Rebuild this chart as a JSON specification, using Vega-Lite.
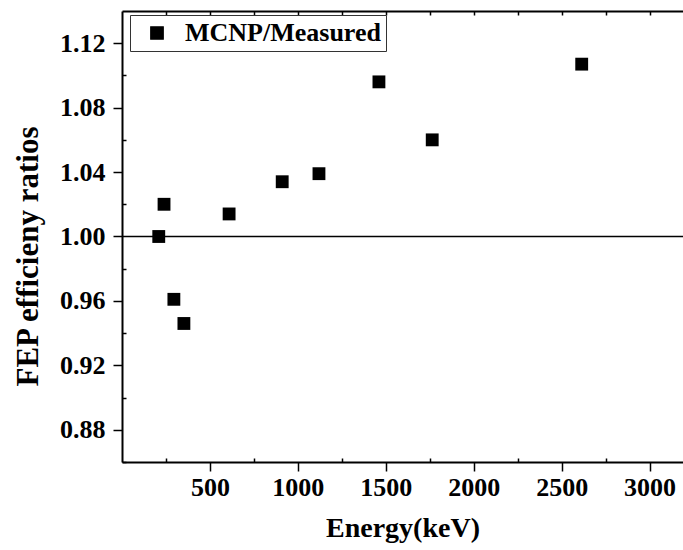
{
  "$schema": "https://vega.github.io/schema/vega-lite/v6.json",
  "width": 561,
  "height": 451,
  "autosize": {"type": "none"},
  "padding": {"left": 122, "top": 11, "right": 0, "bottom": 88},
  "background": "white",
  "config": {"view": {"stroke": null}, "font": "Liberation Serif"},
  "datasets": {
    "pts": [
      {"energy": 209, "ratio": 1.000, "series": "MCNP/Measured"},
      {"energy": 239, "ratio": 1.020, "series": "MCNP/Measured"},
      {"energy": 295, "ratio": 0.961, "series": "MCNP/Measured"},
      {"energy": 352, "ratio": 0.946, "series": "MCNP/Measured"},
      {"energy": 609, "ratio": 1.014, "series": "MCNP/Measured"},
      {"energy": 911, "ratio": 1.034, "series": "MCNP/Measured"},
      {"energy": 1120, "ratio": 1.039, "series": "MCNP/Measured"},
      {"energy": 1461, "ratio": 1.096, "series": "MCNP/Measured"},
      {"energy": 1764, "ratio": 1.060, "series": "MCNP/Measured"},
      {"energy": 2614, "ratio": 1.107, "series": "MCNP/Measured"}
    ],
    "ref": [{"level": 1.0}]
  },
  "layer": [
    {
      "data": {"name": "ref"},
      "mark": {"type": "rule", "color": "black", "strokeWidth": 1.5},
      "encoding": {
        "y": {"field": "level", "type": "quantitative", "axis": null, "scale": {"domain": [0.86, 1.14], "nice": false, "zero": false}}
      }
    },
    {
      "data": {"name": "pts"},
      "mark": {"type": "point", "shape": "square", "filled": true, "size": 165, "opacity": 1},
      "encoding": {
        "x": {
          "field": "energy", "type": "quantitative",
          "scale": {"domain": [0, 3190], "nice": false, "zero": false},
          "axis": {
            "orient": "bottom", "values": [500, 1000, 1500, 2000, 2500, 3000], "format": "d", "grid": false,
            "title": "Energy(keV)",
            "domainColor": "black", "domainWidth": 2, "tickColor": "black", "tickWidth": 1.5, "tickSize": 9,
            "labelFont": "Liberation Serif", "labelFontSize": 26, "labelFontWeight": "bold", "labelColor": "black",
            "labelBaseline": "alphabetic", "labelPadding": 24, "labelFlush": false,
            "titleFont": "Liberation Serif", "titleFontSize": 28, "titleFontWeight": "bold", "titleColor": "black",
            "titleBaseline": "alphabetic", "titleY": 74
          }
        },
        "y": {
          "field": "ratio", "type": "quantitative",
          "scale": {"domain": [0.86, 1.14], "nice": false, "zero": false},
          "axis": {
            "orient": "left", "values": [0.88, 0.92, 0.96, 1.0, 1.04, 1.08, 1.12], "format": ".2f", "grid": false,
            "title": "FEP efficieny ratios",
            "domainColor": "black", "domainWidth": 2, "tickColor": "black", "tickWidth": 1.5, "tickSize": 9,
            "labelFont": "Liberation Serif", "labelFontSize": 26, "labelFontWeight": "bold", "labelColor": "black",
            "labelPadding": 8, "labelFlush": false,
            "titleFont": "Liberation Serif", "titleFontSize": 31, "titleFontWeight": "bold", "titleColor": "black",
            "titleAngle": 270, "titleBaseline": "alphabetic", "titleAlign": "center", "titleX": -85, "titleY": 245
          }
        },
        "color": {
          "field": "series", "type": "nominal",
          "scale": {"range": ["black"]},
          "legend": {
            "title": null, "orient": "none", "legendX": 8, "legendY": 4,
            "strokeColor": "#333333", "fillColor": "white", "padding": 5,
            "symbolOffset": 9, "labelOffset": 15, "symbolType": "square", "symbolSize": 150, "symbolOpacity": 1,
            "symbolFillColor": "black", "symbolStrokeColor": "black", "labelLimit": 500,
            "labelFont": "Liberation Serif", "labelFontSize": 26, "labelFontWeight": "bold", "labelColor": "black"
          }
        }
      }
    },
    {
      "data": {"name": "pts"},
      "mark": {"type": "point", "opacity": 0},
      "encoding": {
        "x": {
          "field": "energy", "type": "quantitative",
          "axis": {"orient": "bottom", "values": [250, 750, 1250, 1750, 2250, 2750], "labels": false, "domain": false, "grid": false, "title": null, "tickColor": "black", "tickWidth": 1.5, "tickSize": -4}
        },
        "y": {
          "field": "ratio", "type": "quantitative",
          "axis": {"orient": "left", "values": [0.86, 0.90, 0.94, 0.98, 1.02, 1.06, 1.10], "labels": false, "domain": false, "grid": false, "title": null, "tickColor": "black", "tickWidth": 1.5, "tickSize": -4}
        }
      }
    },
    {
      "data": {"name": "pts"},
      "mark": {"type": "point", "opacity": 0},
      "encoding": {
        "x": {
          "field": "energy", "type": "quantitative",
          "axis": {"orient": "top", "values": [250, 500, 750, 1000, 1250, 1500, 1750, 2000, 2250, 2500, 2750, 3000], "labels": false, "domain": true, "domainColor": "black", "domainWidth": 2, "grid": false, "title": null, "tickColor": "black", "tickWidth": 1.5, "tickSize": -4}
        },
        "y": {"field": "ratio", "type": "quantitative", "axis": null}
      }
    }
  ],
  "resolve": {"axis": {"x": "independent", "y": "independent"}}
}
